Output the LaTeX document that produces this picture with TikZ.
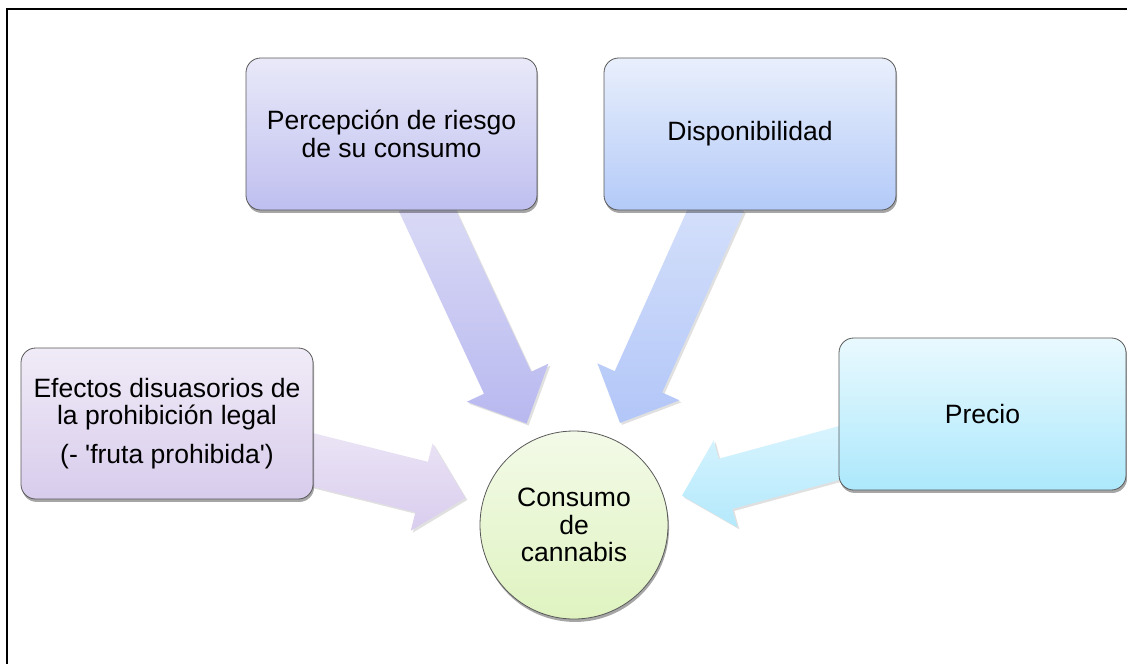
\documentclass[tikz,border=0pt]{standalone}
\usepackage{fontspec}
\setmainfont{Liberation Sans}
\usetikzlibrary{calc,shadows}
\pgfdeclarelayer{bg}
\pgfsetlayers{bg,main}
\definecolor{efT}{HTML}{F0EBF7}\definecolor{efB}{HTML}{D8CCEC}
\definecolor{peT}{HTML}{E9E9F9}\definecolor{peB}{HTML}{BFBFF0}
\definecolor{diT}{HTML}{E9EFFC}\definecolor{diB}{HTML}{B3CAF8}
\definecolor{prT}{HTML}{E9F9FE}\definecolor{prB}{HTML}{ACE8FC}
\definecolor{ciT}{HTML}{F3FAE8}\definecolor{ciB}{HTML}{DFF3C0}
\definecolor{aeT}{HTML}{EBE4F5}\definecolor{aeB}{HTML}{D9CDEE}
\definecolor{apT}{HTML}{DCDCF6}\definecolor{apB}{HTML}{B8B8F0}
\definecolor{adT}{HTML}{D6E1FA}\definecolor{adB}{HTML}{B2C6F8}
\definecolor{arT}{HTML}{D8F4FE}\definecolor{arB}{HTML}{B4E9FC}
\tikzset{
  boxstyle/.style={draw=black!65, line width=0.6pt, rounded corners=11pt,
    align=center, inner sep=0pt,
    font=\fontsize{19.9}{20.6}\selectfont,
    drop shadow={shadow xshift=0.8pt, shadow yshift=-2.2pt, opacity=0.35, fill=black}},
  arrowstyle/.style={drop shadow={shadow xshift=1.5pt, shadow yshift=-1.5pt, opacity=0.12, fill=black}},
}
\newcommand\blockarrow[4]{%
  \coordinate (#4S) at ($(#1.center)!#2!(circ.center)$);
  \coordinate (#4T) at ($(circ.center)!84pt!(#1.center)$);
  \coordinate (#4B) at ($(#4T)!33.75pt!(#4S)$);
  \path[arrowstyle, #3]
    ($(#4S)!19.5pt!90:(#4T)$) -- ($(#4B)!19.5pt!90:(#4T)$) -- ($(#4B)!33.75pt!90:(#4T)$)
    -- (#4T) -- ($(#4B)!33.75pt!-90:(#4T)$) -- ($(#4B)!19.5pt!-90:(#4T)$)
    -- ($(#4S)!19.5pt!-90:(#4T)$) -- cycle;
}
\begin{document}
\begin{tikzpicture}[x=0.75pt,y=-0.75pt]
\useasboundingbox (0,0) rectangle (1127,664);
\draw[line width=1.5pt] (7,664) -- (7,9) -- (1127,9);

\node[boxstyle, minimum width=219pt, minimum height=113.25pt, top color=efT, bottom color=efB]
  (efe) at (167,423.5) {Efectos disuasorios de\\la prohibición legal\\[8.5pt](- \textquotesingle fruta prohibida\textquotesingle)};
\node[boxstyle, minimum width=218.25pt, minimum height=114pt, top color=peT, bottom color=peB]
  (per) at (391.5,134) {Percepción de riesgo\\de su consumo};
\node[boxstyle, minimum width=219pt, minimum height=114pt, top color=diT, bottom color=diB]
  (dis) at (750,134) {Disponibilidad};
\node[boxstyle, minimum width=215.25pt, minimum height=114pt, top color=prT, bottom color=prB]
  (pre) at (982.5,414) {Precio};
\node[boxstyle, circle, minimum size=141pt, top color=ciT, bottom color=ciB]
  (circ) at (574,525) {Consumo\\de\\cannabis};

\begin{pgfonlayer}{bg}
\fill[white] (0,0) rectangle (1127,664);
\blockarrow{per}{0.17}{top color=apT, bottom color=apB}{a1}
\blockarrow{dis}{0.17}{top color=adT, bottom color=adB}{a2}
\blockarrow{efe}{0.33}{top color=aeT, bottom color=aeB}{a3}
\blockarrow{pre}{0.32}{top color=arT, bottom color=arB}{a4}
\end{pgfonlayer}
\end{tikzpicture}
\end{document}
